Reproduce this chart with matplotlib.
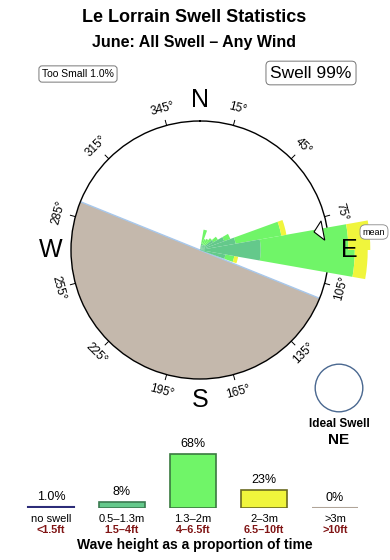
import matplotlib
matplotlib.use('Agg')
import matplotlib.pyplot as plt
import numpy as np
from matplotlib.patches import Circle

plt.rcParams['font.family'] = ['Liberation Sans', 'DejaVu Sans']

# swell rose, 10 degree bins (bin centres, compass bearing)
bin_centres = [15, 25, 35, 45, 55, 65, 75, 85, 95, 105]
# outer radius of each height class, stacked (1.0 = circle edge)
r_small = [0.05, 0.04, 0.05, 0.05, 0.12, 0.20, 0.28, 0.47, 0.47, 0.20]
r_mid = [0.16, 0.09, 0.10, 0.12, 0.16, 0.25, 0.64, 1.15, 1.20, 0.27]
r_big = [0.16, 0.09, 0.10, 0.12, 0.16, 0.25, 0.68, 1.32, 1.30, 0.30]
bin_width = 10

land_from, land_to = 112, 292
mean_dir = 81

deg_labels = [15, 45, 75, 105, 135, 165, 195, 225, 255, 285, 315, 345]
compass = {'N': 0, 'E': 90, 'S': 180, 'W': 270}

# bar chart below
cats = ['no swell', '0.5–1.3m', '1.3–2m', '2–3m', '>3m']
cats_ft = ['<1.5ft', '1.5–4ft', '4–6.5ft', '6.5–10ft', '>10ft']
pcts = [1.0, 8, 68, 23, 0]
pct_labels = ['1.0%', '8%', '68%', '23%', '0%']

c_small = '#64c98b'
c_mid = '#70f568'
c_big = '#f0f53c'
c_land = '#c4b8ac'
bar_fill = ['#2c2c78', c_small, c_mid, c_big, c_land]
bar_edge = ['#2c2c78', '#3a7a50', '#3a7a40', '#6a6a20', '#b0a498']

W, H = 390, 560
fig = plt.figure(figsize=(3.9, 5.6), dpi=100)

def fx(x):
    return x / W

def fy(y):
    return 1 - y / H

# ---- rose ----
cx, cy, R = 200, 250, 129
ax = fig.add_axes([fx(cx - R), fy(cy + R), 2 * R / W, 2 * R / H], projection='polar')
ax.set_theta_zero_location('N')
ax.set_theta_direction(-1)
ax.set_ylim(0, 1)
ax.set_xticks([])
ax.set_yticks([])
ax.grid(False)
ax.spines['polar'].set_linewidth(1.0)

# land
lw = np.deg2rad(land_to - land_from)
ax.bar(np.deg2rad(land_from) + lw / 2, 1, width=lw, bottom=0, color=c_land,
       edgecolor='none', zorder=1)
for d in (land_from, land_to):
    ax.plot([np.deg2rad(d)] * 2, [0, 1], color='#a8c8ec', lw=1, zorder=2)

th = np.deg2rad(bin_centres)
w = np.deg2rad(bin_width)
r_small = np.array(r_small)
r_mid = np.array(r_mid)
r_big = np.array(r_big)
ax.bar(th, r_small, width=w, bottom=0, color=c_small, edgecolor='none', zorder=4, clip_on=False)
ax.bar(th, r_mid - r_small, width=w, bottom=r_small, color=c_mid, edgecolor='none', zorder=3, clip_on=False)
ax.bar(th, r_big - r_mid, width=w, bottom=r_mid, color=c_big, edgecolor='none', zorder=3, clip_on=False)

# mean direction arrow
m = np.deg2rad(mean_dir)
ax.fill([m - np.deg2rad(4.5), m, m + np.deg2rad(4.5)], [0.965, 0.895, 0.97],
        facecolor='white', edgecolor='black', lw=0.8, zorder=6, clip_on=False)

for d in deg_labels:
    t = np.deg2rad(d)
    ax.plot([t, t], [1.0, 1.04], color='black', lw=0.7, clip_on=False, zorder=6)
    rot = 180 - d if 90 < d < 270 else -d
    ax.text(t, 1.135, '%d°' % d, rotation=rot, ha='center', va='center',
            fontsize=8.5, rotation_mode='anchor')

for k, d in compass.items():
    ax.text(np.deg2rad(d), 1.16, k, ha='center', va='center', fontsize=18)

fig.text(fx(374), fy(232), 'mean', ha='center', va='center', fontsize=6.5,
         bbox=dict(boxstyle='round,pad=0.3,rounding_size=0.6', fc='white', ec='#888888', lw=0.6))

# ---- titles and boxes ----
fig.text(fx(194), fy(18), 'Le Lorrain Swell Statistics', ha='center', va='center',
         fontsize=13, fontweight='bold')
fig.text(fx(194), fy(42), 'June: All Swell – Any Wind', ha='center', va='center',
         fontsize=11.5, fontweight='bold')
fig.text(fx(78), fy(74), 'Too Small 1.0%', ha='center', va='center', fontsize=7.5,
         bbox=dict(boxstyle='round,pad=0.3', fc='white', ec='#777777', lw=0.7))
fig.text(fx(311), fy(73), 'Swell 99%', ha='center', va='center', fontsize=12.5,
         bbox=dict(boxstyle='round,pad=0.25', fc='white', ec='#777777', lw=0.7))

# ideal swell
ax3 = fig.add_axes([fx(314), fy(413), 50 / W, 50 / H])
ax3.set_xlim(-1.05, 1.05)
ax3.set_ylim(-1.05, 1.05)
ax3.set_aspect('equal')
ax3.axis('off')
ax3.add_patch(Circle((0, 0), 1, fill=False, ec='#4a6890', lw=1))
fig.text(fx(339), fy(424), 'Ideal Swell', ha='center', va='center', fontsize=8.5, fontweight='bold')
fig.text(fx(339), fy(440), 'NE', ha='center', va='center', fontsize=11, fontweight='bold')

# ---- bar chart ----
ax2 = fig.add_axes([fx(15.5), fy(508), 355 / W, 68 / H])
ax2.set_xlim(-0.5, 4.5)
ax2.set_ylim(0, 86)
ax2.axis('off')
xs = np.arange(len(cats))
bars = ax2.bar(xs, pcts, width=0.634, color=bar_fill, edgecolor=bar_edge, lw=1.2)
bars[0].set_linewidth(1.5)
bars[4].set_linewidth(1.5)
for i in xs:
    ax2.annotate(pct_labels[i], (i, pcts[i]), xytext=(0, 3), textcoords='offset points',
                 ha='center', va='bottom', fontsize=9)
    ax2.annotate(cats[i], (i, 0), xytext=(0, -7.8), textcoords='offset points',
                 ha='center', va='center', fontsize=8, annotation_clip=False)
    ax2.annotate(cats_ft[i], (i, 0), xytext=(0, -15.6), textcoords='offset points',
                 ha='center', va='center', fontsize=7.8, color='#801414',
                 fontweight='bold', annotation_clip=False)

fig.text(fx(195), fy(545), 'Wave height as a proportion of time', ha='center', va='center',
         fontsize=10, fontweight='bold')

fig.savefig('out.png', dpi=100)
